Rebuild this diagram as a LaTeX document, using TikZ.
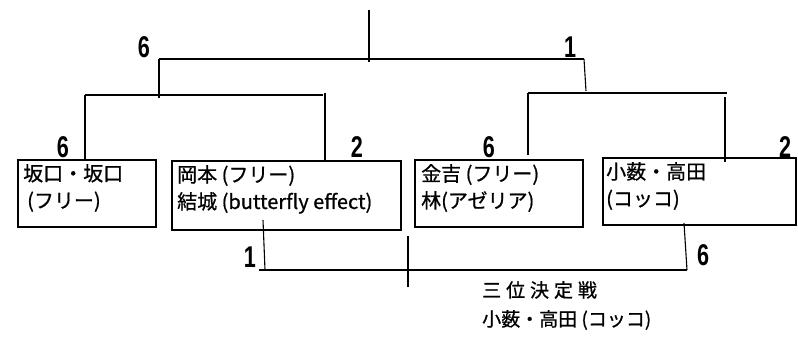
\documentclass[tikz,border=0pt]{standalone}
\usepackage{fontspec}
\setmainfont{Noto Sans CJK JP}[FakeBold=0.8]
\newfontfamily\scorefont{Liberation Sans}
\newcommand\pts[1]{\scalebox{0.72}[1]{#1}}
\tikzset{
  tie/.style={line width=1.1pt},
  team/.style={draw, line width=1.1pt, inner sep=0pt},
  names/.style={anchor=north west, align=left, inner sep=0pt, font=\fontsize{20}{27}\selectfont},
  score/.style={inner sep=0pt, font=\scorefont\bfseries\fontsize{30}{30}\selectfont}
}
\begin{document}
\begin{tikzpicture}[x=1pt,y=-1pt]
\useasboundingbox (0,0) rectangle (798,337);

% teams
\node[team, minimum width=138pt, minimum height=67pt] (t1) at (87,193.5) {};
\node[team, minimum width=229pt, minimum height=69pt] (t2) at (286.5,195.5) {};
\node[team, minimum width=168pt, minimum height=67pt] (t3) at (499,193.5) {};
\node[team, minimum width=193pt, minimum height=67pt] (t4) at (699.5,191.5) {};
\node[names] (t1txt) at (23,164) {坂口・坂口\\\hspace{4pt}(フリー)};
\node[names] (t2txt) at (177,165) {岡本 (フリー)\\結城 (butterfly effect)};
\node[names] (t3txt) at (421,164) {金吉 (フリー)\\林(アゼリア)};
\node[names] (t4txt) at (606,162) {小薮・高田\\(コッコ)};

% bracket corners
\coordinate (top) at (369,10);
\coordinate (finL) at (159,59);
\coordinate (finR) at (584,59);
\coordinate (semiL) at (159,95);
\coordinate (semiR) at (586,93);
\coordinate (l1) at (85,95);
\coordinate (l2) at (325,95);
\coordinate (r1) at (528,93);
\coordinate (r2) at (725,93);

\draw[tie] (top) -- (369,62);
\draw[tie] (finL) -- (finR);
\draw[tie] (finL) -- (159,98);
\draw[tie] (finR) -- (586,91);
\draw[tie] (l1) -- (323,95);
\draw[tie] (l1) -- (t1.north -| l1);
\draw[tie] (325,93) -- (t2.north -| l2);
\draw[tie] (r1) -- (727,93);
\draw[tie] (r1) -- (528,155);
\draw[tie] (725,97) -- (725,162);

% third place
\coordinate (thL) at (265,270);
\coordinate (thR) at (687,270);
\draw[tie] (263,220) -- (thL);
\draw[tie] (259,270) -- (thR);
\draw[tie] (684,223) -- (thR);
\draw[tie] (408,236) -- (408,287);

% scores
\node[score] (s1) at (144,47) {\pts{6}};
\node[score] (s2) at (570,47) {\pts{1}};
\node[score] (s3) at (63,147) {\pts{6}};
\node[score] (s4) at (357,147) {\pts{2}};
\node[score] (s5) at (489,147) {\pts{6}};
\node[score] (s6) at (785,147) {\pts{2}};
\node[score] (s7) at (250,257) {\pts{1}};
\node[score] (s8) at (703,255) {\pts{6}};

\node[anchor=west, inner sep=0pt, font=\fontsize{19}{19}\selectfont\addfontfeature{LetterSpace=26}] (third) at (482,290) {三位決定戦};
\node[anchor=west, inner sep=0pt, font=\fontsize{19}{19}\selectfont] (winner) at (482,320) {小薮・高田 (コッコ)};
\end{tikzpicture}
\end{document}
